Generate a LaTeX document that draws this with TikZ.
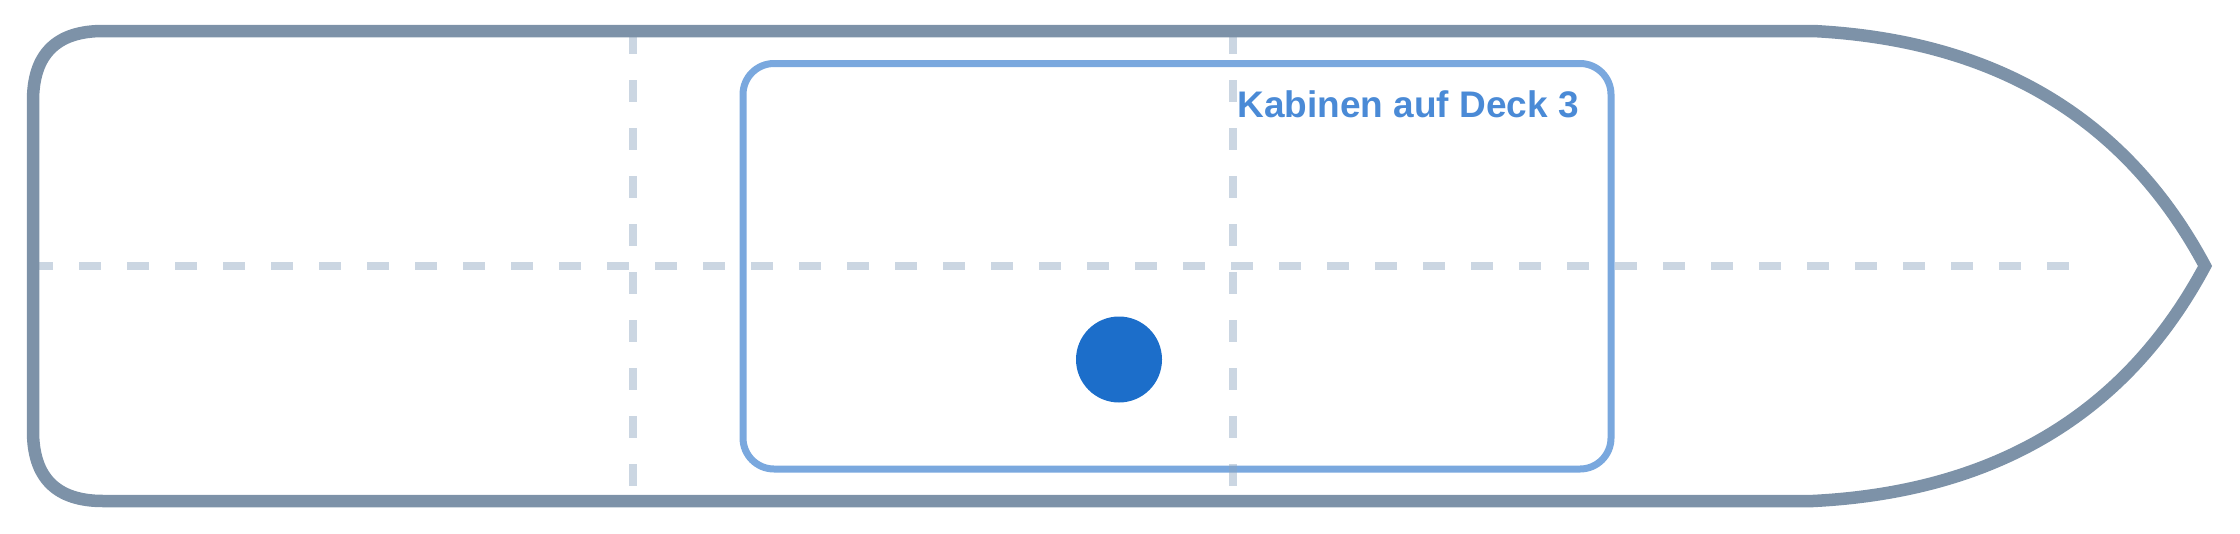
\documentclass[tikz,border=0pt]{standalone}
\usepackage{fontspec}
\setmainfont{Liberation Sans}
\definecolor{hullcol}{RGB}{125,146,168}
\definecolor{gridcol}{RGB}{140,165,190}
\definecolor{cabcol}{RGB}{122,168,222}
\definecolor{labcol}{RGB}{74,138,214}
\definecolor{dotcol}{RGB}{28,110,202}
\tikzset{
  hull/.style={draw=hullcol, line width=12.5pt, line join=miter},
  gridline/.style={draw=gridcol, draw opacity=0.45, line width=8pt, dash pattern=on 21.5pt off 26.5pt},
  cabin/.style={draw=cabcol, line width=7pt, rounded corners=31pt},
  label/.style={text=labcol, font=\fontsize{37}{44}\selectfont\bfseries, inner sep=0pt},
  marker/.style={circle, fill=dotcol, minimum size=86pt, inner sep=0pt}
}
\begin{document}
\begin{tikzpicture}[x=1pt,y=-1pt]
\useasboundingbox (0,0) rectangle (2240,533);
% cabin area
\draw[cabin] (743,63.5) rectangle (1611,469);
% grid lines
\coordinate (h1) at (31,266);
\coordinate (h2) at (2072,266);
\coordinate (v1a) at (633,32);
\coordinate (v1b) at (633,490);
\coordinate (v2a) at (1233,32);
\coordinate (v2b) at (1233,490);
\draw[gridline] (h1) -- (h2);
\draw[gridline] (v1a) -- (v1b);
\draw[gridline] (v2a) -- (v2b);
% hull
\draw[hull] (103,31) .. controls (56.3,31) and (33,54.3) .. (33,101)
  -- (33,431) .. controls (33,477.7) and (56.3,501) .. (103,501)
  -- (1813,501) .. controls (1995.7,491.7) and (2126.3,413.3) .. (2205,266)
  .. controls (2126.3,118.7) and (1995.7,40.3) .. (1813,31) -- cycle;
% label and marker
\node[label, anchor=base east] (lab) at (1579,117) {Kabinen auf Deck 3};
\node[marker] (dot) at (1119,359.5) {};
\end{tikzpicture}
\end{document}
